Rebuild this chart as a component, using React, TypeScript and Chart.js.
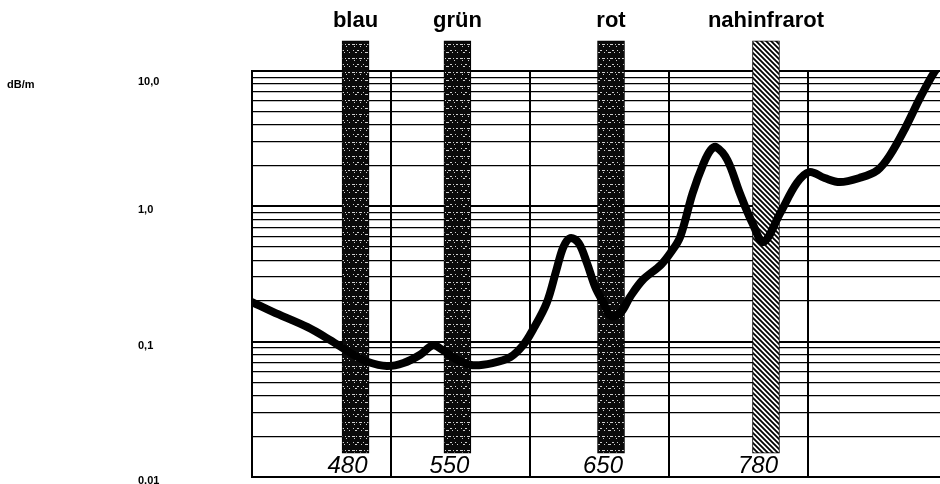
import { useEffect, useRef } from 'react';
import { Chart, registerables } from 'chart.js';

Chart.register(...registerables);

// ---- data ----
const wavelengthNm = [
  400, 415, 440, 456, 473, 483, 497, 509, 521, 530, 537, 548, 559, 573, 586, 595,
  602, 612, 619, 624, 629, 635, 641, 647, 653, 658, 665, 672, 681, 694, 701, 708,
  717, 725, 730, 734, 742, 751, 760, 768, 780, 792, 801, 812, 823, 837, 850, 859,
  870, 881, 891, 896,
];
const attenuationDbPerM = [
  0.196, 0.166, 0.128, 0.103, 0.080, 0.071, 0.066, 0.0695, 0.080, 0.094, 0.087, 0.073, 0.067, 0.0695, 0.077, 0.094,
  0.122, 0.193, 0.338, 0.50, 0.583, 0.536, 0.381, 0.253, 0.193, 0.155, 0.163, 0.214, 0.285, 0.368, 0.452, 0.593,
  1.25, 2.09, 2.61, 2.74, 2.20, 1.25, 0.753, 0.545, 0.891, 1.486, 1.79, 1.62, 1.51, 1.62, 1.85, 2.39,
  3.79, 6.43, 9.84, 11.3,
];

const bandNames = ['blau', 'grün', 'rot', 'nahinfrarot'];
const bandLabels = ['480', '550', '650', '780'];
const bandCentersNm = [474.5, 547.8, 658.3, 769.8];
const bandLow = 0.015;
const bandHigh = 16.7;

const gridWavelengths = [400, 500, 600, 700, 800];
const xMin = 400;
const xMax = 895;

const yMin = 0.01;
const yMax = 10;
const yDecades = [0.01, 0.1, 1, 10];
const yDecadeLabels = ['0,01', '0,1', '1,0', '10,0'];
const yMinorSteps = [1, 2, 3, 4, 5, 6, 7, 8, 9];
const yUnit = 'dB/m';

const FONT = 'Liberation Sans';

function makeDarkPattern(): CanvasPattern | string {
  const c = document.createElement('canvas');
  c.width = 27;
  c.height = 14;
  const g = c.getContext('2d');
  if (!g) return '#111';
  g.fillStyle = '#0a0a0a';
  g.fillRect(0, 0, 27, 14);
  g.fillStyle = '#d0d0d0';
  const specks: number[][] = [
    [1, 2, 3], [5, 2, 1], [8, 2, 3], [13, 2, 1], [16, 2, 3], [21, 2, 1], [24, 2, 2],
    [3, 4, 1], [9, 4, 1], [15, 4, 1], [22, 4, 1],
    [2, 8, 1], [6, 8, 2], [12, 8, 1], [18, 8, 2], [23, 8, 1],
    [4, 10, 2], [10, 10, 1], [14, 10, 3], [20, 10, 1], [25, 10, 1],
  ];
  specks.forEach(([x, y, w]) => g.fillRect(x, y, w, 1));
  const p = g.createPattern(c, 'repeat');
  return p || '#111';
}

function makeHatchPattern(): CanvasPattern | string {
  const c = document.createElement('canvas');
  c.width = 5;
  c.height = 5;
  const g = c.getContext('2d');
  if (!g) return '#888';
  g.fillStyle = '#ffffff';
  g.fillRect(0, 0, 5, 5);
  g.strokeStyle = '#000';
  g.lineWidth = 1.8;
  g.beginPath();
  g.moveTo(-1, -1);
  g.lineTo(6, 6);
  g.moveTo(-1, 4);
  g.lineTo(1, 6);
  g.moveTo(4, -1);
  g.lineTo(6, 1);
  g.stroke();
  const p = g.createPattern(c, 'repeat');
  return p || '#888';
}

export default function App() {
  const canvasRef = useRef<HTMLCanvasElement | null>(null);

  useEffect(() => {
    document.body.style.margin = '0';
    const canvas = canvasRef.current;
    if (!canvas) return;

    const dark = makeDarkPattern();
    const hatch = makeHatchPattern();

    const unitPlugin = {
      id: 'unitLabel',
      afterDraw(chart: any) {
        const { ctx } = chart;
        const y = chart.scales.y.getPixelForValue(yMax) + 14;
        ctx.save();
        ctx.font = `bold 11px "${FONT}"`;
        ctx.fillStyle = '#000';
        ctx.textAlign = 'left';
        ctx.textBaseline = 'middle';
        ctx.fillText(yUnit, 7, y);
        ctx.restore();
      },
    };

    const yTickValues: number[] = [];
    yDecades.slice(0, 3).forEach((d) => yMinorSteps.forEach((m) => yTickValues.push(+(d * m).toPrecision(3))));
    yTickValues.push(yMax);

    const chart = new Chart(canvas, {
      type: 'line',
      data: {
        datasets: [
          {
            type: 'line',
            data: wavelengthNm.map((x, i) => ({ x, y: attenuationDbPerM[i] })),
            borderColor: '#000',
            borderWidth: 8,
            pointRadius: 0,
            tension: 0.35,
            borderCapStyle: 'round',
            borderJoinStyle: 'round',
            xAxisID: 'x',
            yAxisID: 'y',
            order: 0,
          } as any,
          {
            type: 'bar',
            data: bandCentersNm.map((x) => ({ x, y: [bandLow, bandHigh] })),
            backgroundColor: [dark, dark, dark, hatch],
            borderColor: '#000',
            borderWidth: 1,
            borderSkipped: false,
            barThickness: 27,
            clip: false,
            xAxisID: 'x',
            yAxisID: 'y',
            order: 1,
          } as any,
        ],
      },
      options: {
        animation: false,
        responsive: true,
        maintainAspectRatio: false,
        layout: { padding: { left: 138, right: 0, top: 0, bottom: 0 } },
        plugins: {
          legend: { display: false },
          tooltip: { enabled: false },
          title: { display: false },
        },
        scales: {
          x: {
            type: 'linear',
            position: 'bottom',
            min: xMin,
            max: xMax,
            offset: false,
            afterBuildTicks: (s: any) => {
              s.ticks = [...gridWavelengths, ...bandCentersNm].sort((a, b) => a - b).map((v) => ({ value: v }));
            },
            grid: {
              offset: false,
              color: (ctx: any) => (gridWavelengths.includes(ctx.tick?.value) ? '#000' : 'rgba(0,0,0,0)'),
              lineWidth: 2,
              drawTicks: false,
            },
            border: { display: true, color: '#000', width: 2 },
            ticks: {
              autoSkip: false,
              maxRotation: 0,
              minRotation: 0,
              mirror: true,
              padding: -4,
              labelOffset: -8,
              color: '#000',
              font: { family: FONT, size: 24, style: 'italic', weight: 'normal' },
              callback: (v: any) => {
                const i = bandCentersNm.indexOf(Number(v));
                return i >= 0 ? bandLabels[i] : '';
              },
            },
            afterFit: (s: any) => {
              s.height = 7;
              s.paddingLeft = 0;
              s.paddingRight = 0;
            },
          },
          xTop: {
            type: 'linear',
            position: 'top',
            min: xMin,
            max: xMax,
            offset: false,
            afterBuildTicks: (s: any) => {
              s.ticks = bandCentersNm.map((v) => ({ value: v }));
            },
            grid: { display: false, drawTicks: false, offset: false },
            border: { display: false },
            ticks: {
              autoSkip: false,
              maxRotation: 0,
              minRotation: 0,
              padding: 37,
              color: '#000',
              font: { family: FONT, size: 22, weight: 'bold' },
              callback: (v: any) => {
                const i = bandCentersNm.indexOf(Number(v));
                return i >= 0 ? bandNames[i] : '';
              },
            },
            afterFit: (s: any) => {
              s.height = 71;
              s.paddingLeft = 0;
              s.paddingRight = 0;
            },
          },
          y: {
            type: 'logarithmic',
            position: 'left',
            min: yMin,
            max: yMax,
            afterBuildTicks: (s: any) => {
              s.ticks = yTickValues.map((v) => ({ value: v }));
            },
            grid: {
              color: '#000',
              lineWidth: (ctx: any) => (yDecades.includes(ctx.tick?.value) ? 2 : 1.3),
              drawTicks: false,
            },
            border: { display: true, color: '#000', width: 2 },
            ticks: {
              autoSkip: false,
              crossAlign: 'far',
              padding: 0,
              labelOffset: 4,
              color: '#000',
              font: { family: FONT, size: 11, weight: 'bold' },
              callback: (v: any) => {
                const i = yDecades.indexOf(Number(v));
                if (i < 0) return '';
                return Number(v) === yMax ? ['', yDecadeLabels[i]] : yDecadeLabels[i];
              },
            },
            afterFit: (s: any) => {
              s.width = 114;
              s.paddingTop = 0;
              s.paddingBottom = 0;
            },
          },
        },
      } as any,
      plugins: [unitPlugin],
    });

    return () => chart.destroy();
  }, []);

  return (
    <div style={{ position: 'relative', width: 940, height: 484, background: '#fff' }}>
      <canvas ref={canvasRef} style={{ display: 'block' }} />
    </div>
  );
}
